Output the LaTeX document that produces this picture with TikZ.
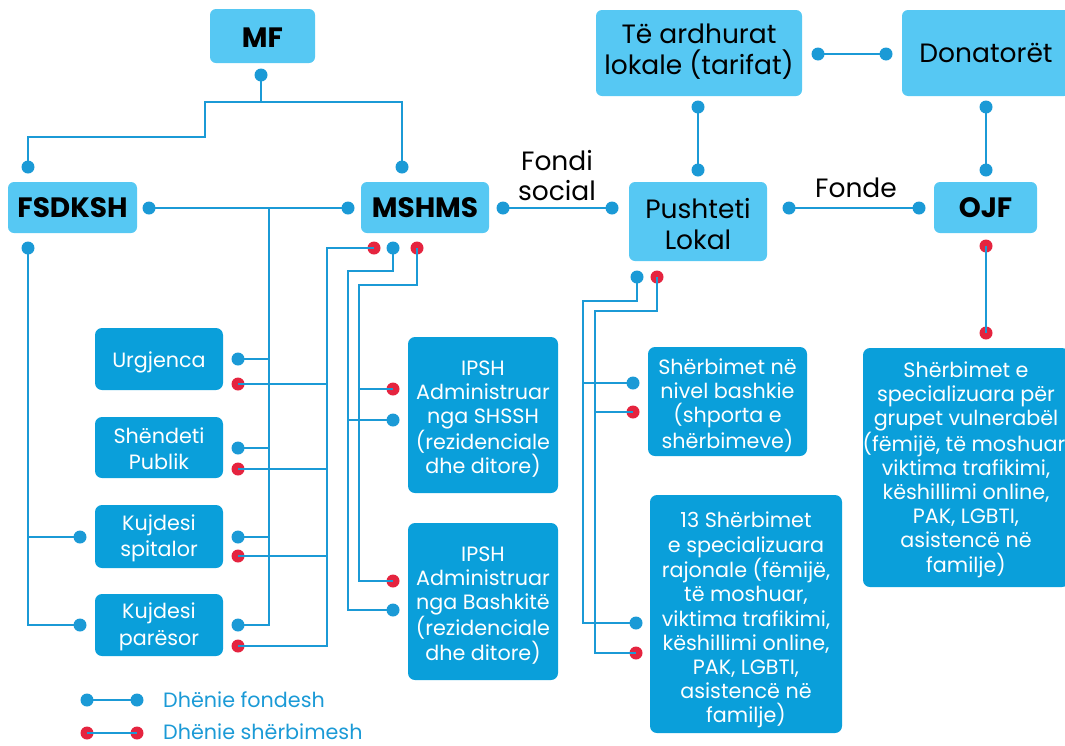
\documentclass[tikz,border=0pt]{standalone}
\usepackage{fontspec}
\setmainfont{Poppins}
\definecolor{lbox}{HTML}{56C8F3}
\definecolor{dbox}{HTML}{0A9FDA}
\definecolor{lin}{HTML}{1B9AD6}
\definecolor{rd}{HTML}{E5243F}
\tikzset{
  lightbox/.style={fill=lbox, rounded corners=6pt, inner sep=0pt},
  lightbox text/.style={inner sep=0pt, align=center, text=black, font=\fontsize{26.5}{31}\selectfont},
  boldbox/.style={lightbox},
  boldbox text/.style={inner sep=0pt, align=center, text=black, font=\fontsize{28}{31}\selectfont\bfseries},
  darkbox/.style={fill=dbox, rounded corners=7pt, inner sep=0pt},
  darkbox text/.style={inner sep=0pt, align=center, text=white, font=\fontsize{20.7}{24.1}\selectfont},
  smallbox/.style={darkbox},
  smallbox text/.style={darkbox text, font=\fontsize{20.7}{26.5}\selectfont},
  bdot/.style={circle, fill=lin, inner sep=0pt, minimum size=13pt},
  rdot/.style={circle, fill=rd, inner sep=0pt, minimum size=13pt},
  conn/.style={draw=lin, line width=2.6pt},
  lbl/.style={text=black, align=center, inner sep=0pt, font=\fontsize{26.5}{30}\selectfont},
  leg/.style={text=lin, anchor=west, inner sep=0pt, font=\fontsize{20.7}{24}\selectfont},
}
% #1 style, #2 name, #3 x, #4 y, #5 width, #6 height, #7 text, #8 downward text shift
\newcommand\tbox[8]{%
  \node[#1, minimum width=#5pt, minimum height=#6pt] (#2) at (#3,#4) {};
  \node[#1 text] (#2t) at ([yshift=-#8pt]#2.center) {#7};}
\begin{document}
\begin{tikzpicture}[x=1pt,y=-1pt]
\useasboundingbox (0,0) rectangle (1065,745);
% boxes
\tbox{boldbox}{mf}{262.5}{36}{105}{54}{MF}{1.5}
\tbox{boldbox}{fs}{72.5}{207.5}{129}{51}{FSDKSH}{0}
\tbox{boldbox}{ms}{425}{207.5}{128}{51}{MSHMS}{0}
\tbox{lightbox}{ar}{699}{53}{206}{86}{Të ardhurat\\lokale (tarifat)}{-1}
\tbox{lightbox}{do}{986}{53}{168}{86}{Donatorët}{0}
\tbox{lightbox}{pu}{698}{221.5}{138}{79}{Pushteti\\Lokal}{2.5}
\tbox{boldbox}{oj}{985.5}{207.5}{103}{51}{OJF}{0}
\tbox{smallbox}{ur}{159}{359}{128}{62}{Urgjenca}{3}
\tbox{smallbox}{sh}{159}{447.5}{128}{61}{Shëndeti\\Publik}{1}
\tbox{smallbox}{sp}{159}{536.5}{128}{63}{Kujdesi\\spitalor}{2}
\tbox{smallbox}{pa}{159}{625}{128}{62}{Kujdesi\\parësor}{2}
\tbox{darkbox}{ipa}{483}{415}{150}{156}{IPSH\\Administruar\\nga SHSSH\\(rezidenciale\\dhe ditore)}{4}
\tbox{darkbox}{ipb}{483}{601.5}{150}{157}{IPSH\\Administruar\\nga Bashkitë\\(rezidenciale\\dhe ditore)}{4}
\tbox{darkbox}{ba}{727.5}{401.5}{159}{109}{Shërbimet në\\nivel bashkie\\(shporta e\\shërbimeve)}{4}
\tbox{darkbox}{rj}{746}{614}{192}{238}{13 Shërbimet\\e specializuara\\rajonale (fëmijë,\\të moshuar,\\viktima trafikimi,\\këshillimi online,\\PAK, LGBTI,\\asistencë në\\familje)}{6}
\tbox{darkbox}{rb}{966}{467.5}{206}{239}{Shërbimet e\\specializuara për\\grupet vulnerabël\\(fëmijë, të moshuar,\\viktima trafikimi,\\këshillimi online,\\PAK, LGBTI,\\asistencë në\\familje)}{2}
% labels
\node[lbl] (fondi) at (557,176) {Fondi\\social};
\node[lbl] (fonde) at (856,188) {Fonde};
% dots
\node[bdot] (mfB) at (261,75) {};
\node[bdot] (fsT) at (28,167) {};
\node[bdot] (msT) at (402,167) {};
\node[bdot] (fsR) at (149,208) {};
\node[bdot] (msL) at (348,208) {};
\node[bdot] (msR) at (503,208) {};
\node[bdot] (puL) at (612,208) {};
\node[bdot] (fsB) at (28,248) {};
\node[rdot] (msB1) at (374,248) {};
\node[bdot] (msB2) at (393,248) {};
\node[rdot] (msB3) at (417,248) {};
\node[bdot] (arR) at (818,54) {};
\node[bdot] (doL) at (886,54) {};
\node[bdot] (arB) at (698,107) {};
\node[bdot] (puT) at (698,170) {};
\node[bdot] (doB) at (986,107) {};
\node[bdot] (ojT) at (986,170) {};
\node[bdot] (puR) at (789,208) {};
\node[bdot] (ojL) at (919,208) {};
\node[rdot] (ojB) at (986,246) {};
\node[rdot] (rbT) at (986,333) {};
\node[bdot] (puB1) at (637,277) {};
\node[rdot] (puB2) at (657,277) {};
\node[bdot] (urR) at (238,359) {};
\node[rdot] (urR2) at (238,384) {};
\node[bdot] (shR) at (238,448) {};
\node[rdot] (shR2) at (238,469) {};
\node[bdot] (spL) at (80,537) {};
\node[bdot] (spR) at (238,537) {};
\node[rdot] (spR2) at (238,556) {};
\node[bdot] (paL) at (80,625) {};
\node[bdot] (paR) at (238,625) {};
\node[rdot] (paR2) at (238,646) {};
\node[rdot] (ip1a) at (393,389) {};
\node[bdot] (ip1b) at (393,420) {};
\node[rdot] (ip2a) at (393,581) {};
\node[bdot] (ip2b) at (393,610) {};
\node[bdot] (baA) at (633,383) {};
\node[rdot] (baB) at (633,412) {};
\node[bdot] (rjA) at (636,623) {};
\node[rdot] (rjB) at (636,653) {};
\node[bdot] (lg1a) at (87,700) {};
\node[bdot] (lg1b) at (137,700) {};
\node[rdot] (lg2a) at (87,733) {};
\node[rdot] (lg2b) at (137,733) {};
% connectors
\draw[conn] (mfB.center) -- (261,102) -- (205,102) -- (205,137) -- (28,137) -- (fsT.center);
\draw[conn] (261,102) -- (402,102) -- (msT.center);
\draw[conn] (fsR.center) -- (msL.center);
\draw[conn] (269,208) -- (269,625) -- (paR.center);
\draw[conn] (269,359) -- (urR.center);
\draw[conn] (269,448) -- (shR.center);
\draw[conn] (269,537) -- (spR.center);
\draw[conn] (fsB.center) -- (28,625) -- (paL.center);
\draw[conn] (28,537) -- (spL.center);
\draw[conn] (msB1.center) -- (327,248) -- (327,646) -- (paR2.center);
\draw[conn] (327,384) -- (urR2.center);
\draw[conn] (327,469) -- (shR2.center);
\draw[conn] (327,556) -- (spR2.center);
\draw[conn] (msB2.center) -- (393,271) -- (348,271) -- (348,610) -- (ip2b.center);
\draw[conn] (348,420) -- (ip1b.center);
\draw[conn] (msB3.center) -- (417,285) -- (359,285) -- (359,581) -- (ip2a.center);
\draw[conn] (359,389) -- (ip1a.center);
\draw[conn] (puB1.center) -- (637,301) -- (583,301) -- (583,623) -- (rjA.center);
\draw[conn] (583,383) -- (baA.center);
\draw[conn] (puB2.center) -- (657,311) -- (595,311) -- (595,653) -- (rjB.center);
\draw[conn] (595,412) -- (baB.center);
\draw[conn] (msR.center) -- (puL.center);
\draw[conn] (puR.center) -- (ojL.center);
\draw[conn] (arR.center) -- (doL.center);
\draw[conn] (arB.center) -- (puT.center);
\draw[conn] (doB.center) -- (ojT.center);
\draw[conn] (ojB.center) -- (rbT.center);
\draw[conn] (lg1a.center) -- (lg1b.center);
\draw[conn] (lg2a.center) -- (lg2b.center);
% legend text
\node[leg] (lt1) at (163,700) {Dhënie fondesh};
\node[leg] (lt2) at (163,732) {Dhënie shërbimesh};
\end{tikzpicture}
\end{document}
